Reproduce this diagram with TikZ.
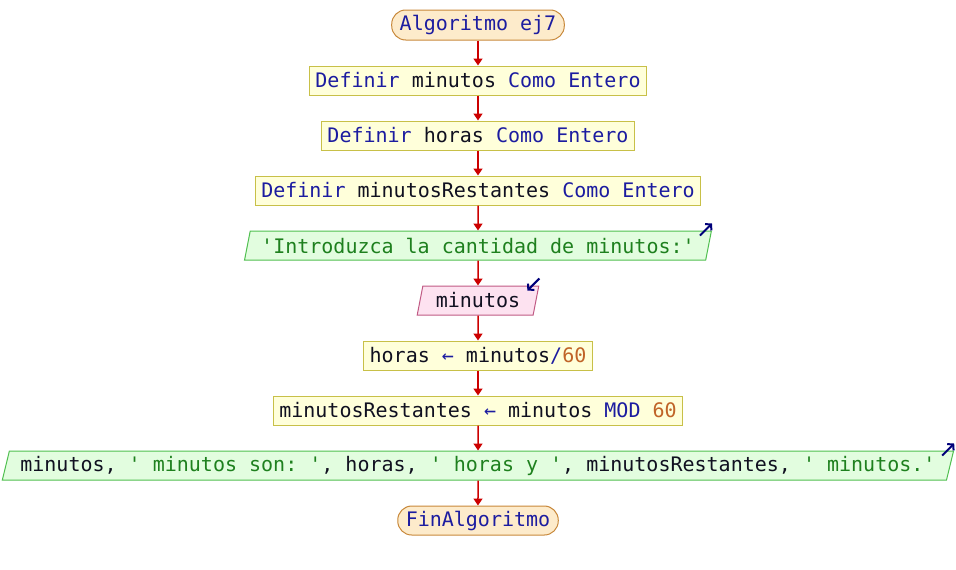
\documentclass[tikz,border=0pt]{standalone}
\usepackage{fontspec}
\setmonofont{DejaVu Sans Mono}
\usetikzlibrary{shapes.geometric, positioning, arrows.meta}
\definecolor{kwcol}{HTML}{1C1CA0}
\definecolor{txtcol}{HTML}{101020}
\definecolor{strcol}{HTML}{1E801E}
\definecolor{numcol}{HTML}{C06428}
\definecolor{endfill}{HTML}{FDEBCB}
\definecolor{endline}{HTML}{C8883A}
\definecolor{procfill}{HTML}{FFFFDA}
\definecolor{procline}{HTML}{C8C048}
\definecolor{outfill}{HTML}{E2FDDF}
\definecolor{outline}{HTML}{50C050}
\definecolor{infill}{HTML}{FDE2F0}
\definecolor{inline}{HTML}{C05A84}
\definecolor{flowred}{HTML}{CC0000}
\definecolor{markblue}{HTML}{00007A}
\newcommand{\kw}[1]{\textcolor{kwcol}{#1}}
\newcommand{\strg}[1]{\textcolor{strcol}{#1}}
\newcommand{\numb}[1]{\textcolor{numcol}{#1}}
\tikzset{
	x=1pt, y=-1pt,
	node distance=25pt, % gap between two boxes of the chart
	every node/.style={font=\ttfamily\fontsize{20}{24}\selectfont, text=txtcol, minimum height=29pt, inner ysep=0pt, line width=1pt},
	endpoint/.style={draw=endline, fill=endfill, rounded corners=14pt, inner xsep=8pt, text=kwcol},
	process/.style={draw=procline, fill=procfill, inner xsep=6pt},
	slanted/.style={trapezium, trapezium left angle=70, trapezium right angle=110, trapezium stretches=true, inner xsep=11pt},
	output/.style={slanted, draw=outline, fill=outfill},
	input/.style={slanted, draw=inline, fill=infill, inner xsep=13pt},
	flow/.style={draw=flowred, line width=1.5pt, -{Triangle[width=9pt,length=7pt]}},
	iomark/.style={draw=markblue, line width=2pt, -{Straight Barb[length=4pt,width=9pt]}},
}
\begin{document}
\begin{tikzpicture}
	\useasboundingbox (0,0) rectangle (956,570);
	\node[endpoint, minimum height=30pt] (start) at (478,25) {Algoritmo ej7};
	\node[process, below=of start] (d1) {\kw{Definir} minutos \kw{Como Entero}};
	\node[process, below=of d1] (d2) {\kw{Definir} horas \kw{Como Entero}};
	\node[process, below=of d2] (d3) {\kw{Definir} minutosRestantes \kw{Como Entero}};
	\node[output, below=of d3] (out1) {\strg{'Introduzca la cantidad de minutos:'}};
	\node[input, below=of out1] (in1) {minutos};
	\node[process, below=of in1] (a1) {horas \kw{←} minutos\kw{/}\numb{60}};
	\node[process, below=of a1] (a2) {minutosRestantes \kw{←} minutos \kw{MOD} \numb{60}};
	\node[output, below=of a2] (out2) {minutos, \strg{' minutos son: '}, horas, \strg{' horas y '}, minutosRestantes, \strg{' minutos.'}};
	\node[endpoint, below=of out2] (end) {FinAlgoritmo};
	\foreach \a/\b in {start/d1, d1/d2, d2/d3, d3/out1, out1/in1, in1/a1, a1/a2, a2/out2, out2/end}
		\draw[flow] (\a) -- (\b);
	% little arrows marking the input and output steps
	\draw[iomark] ([shift={(-12,5)}]out1.top right corner) -- ++(12,-12);
	\draw[iomark] ([shift={(0,-7)}]in1.top right corner) -- ++(-12,12);
	\draw[iomark] ([shift={(-12,5)}]out2.top right corner) -- ++(12,-12);
\end{tikzpicture}
\end{document}
